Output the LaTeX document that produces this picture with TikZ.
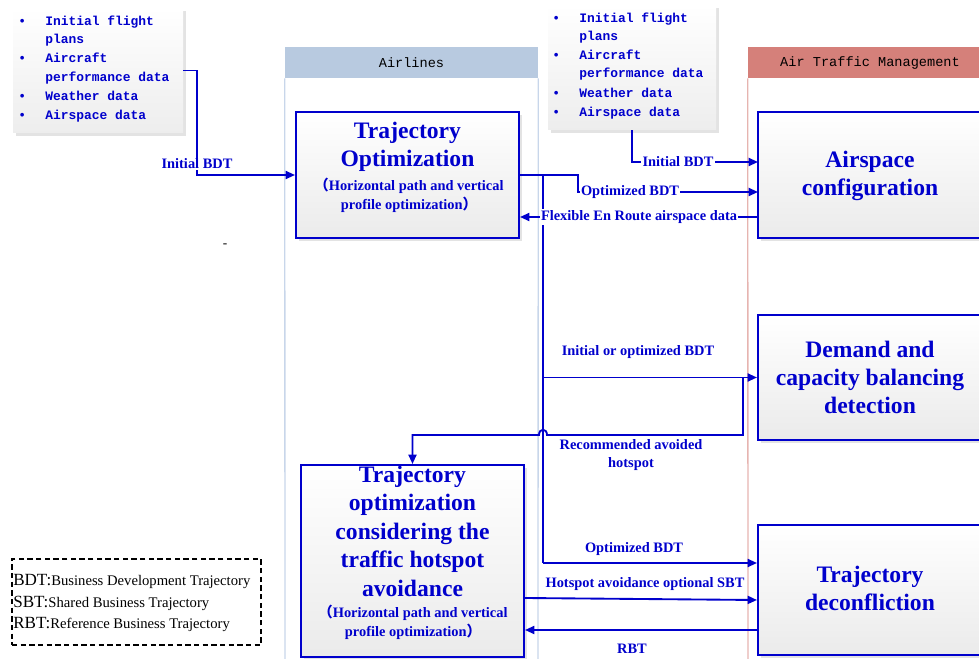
\documentclass[tikz,border=0pt]{standalone}
\usepackage{fontspec}
\setmainfont{Liberation Serif}
\newfontfamily\monof{Liberation Mono}
\newfontfamily\cjkf{Noto Sans CJK SC}
\usetikzlibrary{arrows.meta,calc,shadows}
\definecolor{fblue}{RGB}{0,0,204}
\definecolor{hdrblue}{RGB}{184,202,224}
\definecolor{hdrred}{RGB}{213,128,122}
\definecolor{laneblue}{RGB}{200,214,234}
\definecolor{lanered}{RGB}{230,180,176}
\begin{document}
\begin{tikzpicture}[x=0.75pt,y=-0.75pt,
  box/.style={draw=fblue, line width=1.5pt, top color=white, bottom color=gray!16,
    drop shadow={opacity=0.22,shadow xshift=2pt,shadow yshift=-2pt}, inner sep=0pt},
  databox/.style={top color=white, bottom color=gray!14, inner sep=0pt,
    drop shadow={opacity=0.22,shadow xshift=2pt,shadow yshift=-2pt}},
  bigtxt/.style={text=fblue, font=\fontsize{17.7}{21}\selectfont\bfseries, align=center, inner sep=0pt},
  smalltxt/.style={text=fblue, font=\fontsize{10.8}{14.2}\selectfont\bfseries, align=center, inner sep=0pt},
  lbl/.style={text=fblue, font=\fontsize{10.8}{13.5}\selectfont\bfseries, inner sep=1pt, align=center},
  conn/.style={draw=fblue, line width=1.4pt},
  arr/.style={conn, -{Triangle[length=7pt,width=6pt]}},
  datatext/.style={text=fblue, font=\monof\fontsize{9.7}{12}\selectfont\bfseries, inner sep=0pt,
    text height=7pt, text depth=2pt, anchor=west},
  hdr/.style={font=\monof\fontsize{10.2}{12}\selectfont, inner sep=0pt, minimum height=23.25pt},
  legtxt/.style={anchor=west, inner sep=0pt, text height=9pt, text depth=3pt}
]
\useasboundingbox (0,0) rectangle (979,659);

% lanes
\node[hdr, fill=hdrblue, minimum width=189.75pt] (airhdr) at (411.5,62.5) {Airlines};
\node[hdr, fill=hdrred, minimum width=183pt] (atmhdr) at (870,62.5) {Air Traffic Management};
\draw[laneblue, line width=1pt] (airhdr.south west) -- (285,659);
\draw[laneblue, line width=1pt] (airhdr.south east) -- (538,659);
\draw[lanered, line width=1pt] (atmhdr.south west) -- (748,659);

% data boxes
\node[databox, minimum width=127.5pt, minimum height=93.75pt] (data1) at (98,70.5) {};
\foreach \t/\y/\b in {Initial flight/22/1, plans/40/0, Aircraft/59/1, performance data/78/0, Weather data/97/1, Airspace data/116/1}{
  \node[datatext] (d1l\y) at (45,\y) {\t};
  \ifnum\b=1 \node[datatext] (d1b\y) at (18,\y) {\textbullet}; \fi
}
\node[databox, minimum width=126pt, minimum height=93.75pt] (data2) at (632,67.5) {};
\foreach \t/\y/\b in {Initial flight/19/1, plans/37/0, Aircraft/56/1, performance data/74/0, Weather data/94/1, Airspace data/113/1}{
  \node[datatext] (d2l\y) at (579,\y) {\t};
  \ifnum\b=1 \node[datatext] (d2b\y) at (552,\y) {\textbullet}; \fi
}

% process boxes
\node[box, minimum width=167.25pt, minimum height=94.5pt] (trajopt) at (407.5,175) {};
\node[bigtxt] (trajoptA) at (407.5,147) {Trajectory\\Optimization};
\node[smalltxt] (trajoptB) at (409,195) {{\cjkf （}Horizontal path and vertical\\profile optimization{\cjkf ）}};

\node[box, minimum width=168pt, minimum height=94.5pt] (airspace) at (870,175) {};
\node[bigtxt] (airspaceA) at (870,176) {Airspace\\configuration};

\node[box, minimum width=168pt, minimum height=93.75pt] (demand) at (870,377.5) {};
\node[bigtxt] (demandA) at (870,377) {Demand and\\capacity balancing\\detection};

\node[box, minimum width=168pt, minimum height=97.5pt] (deconf) at (870,590) {};
\node[bigtxt] (deconfA) at (870,588) {Trajectory\\deconfliction};

\node[box, minimum width=167.25pt, minimum height=144pt] (hotspot) at (412.5,561) {};
\node[bigtxt, font=\fontsize{17.7}{21.4}\selectfont\bfseries] (hotspotA) at (412.5,531) {Trajectory\\optimization\\considering the\\traffic hotspot\\avoidance};
\node[smalltxt] (hotspotB) at (413,622) {{\cjkf （}Horizontal path and vertical\\profile optimization{\cjkf ）}};

% connectors
\coordinate (c1) at (197,175);
\draw[arr] (data1.east) -| (c1) -- (trajopt.west);
\coordinate (c2) at (758,162);
\draw[arr] (data2.south) |- (c2);
\coordinate (c3) at (578,175);
\coordinate (c4) at (758,192);
\draw[arr] (trajopt.east) -- (c3) |- (c4);
\draw[arr] ($(airspace.west)+(0,42)$) -- ($(trajopt.east)+(0,42)$);

\coordinate (j1) at (543,175);
\coordinate (j2) at (543,377.5);
\coordinate (j3) at (543,563);
\draw[conn] (j1) -- (j3);
\draw[arr] (j2) -- (demand.west);
\draw[arr] (j3) -- ($(deconf.west)+(0,-27)$);

\coordinate (r1) at (743,377.5);
\draw[arr] (r1) -- (743,435) -- (547,435) .. controls (547,428) and (539,428) .. (539,435) -| (hotspot.north);

\draw[arr] ($(hotspot.east)+(0,37)$) -- ($(deconf.west)+(0,10)$);
\draw[arr] ($(deconf.west)+(0,40)$) -- ($(hotspot.east)+(0,69)$);

% labels
\node[lbl, fill=white] (l1) at (197,164) {Initial BDT};
\node[lbl, fill=white] (l2) at (678,162) {Initial BDT};
\node[lbl, fill=white] (l3) at (630,192) {Optimized BDT};
\node[lbl, fill=white] (l4) at (639,217) {Flexible En Route airspace data};
\node[lbl] (l5) at (638,352) {Initial or optimized BDT};
\node[lbl] (l6) at (631,455) {Recommended avoided\\hotspot};
\node[lbl] (l7) at (634,549) {Optimized BDT};
\node[lbl] (l8) at (645,584) {Hotspot avoidance optional SBT};
\node[lbl] (l9) at (632,649) {RBT};

\node[inner sep=0pt, font=\fontsize{10}{10}\selectfont] (tick) at (225,246) {-};

% legend
\node[draw, dashed, line width=1.1pt, dash pattern=on 4pt off 2.5pt, minimum width=186.75pt, minimum height=64.5pt, inner sep=0pt] (legend) at (136.5,602) {};
\node[legtxt] (lg1) at (13,581) {{\fontsize{12.8}{14}\selectfont BDT:}{\fontsize{11}{13}\selectfont Business Development Trajectory}};
\node[legtxt] (lg2) at (13,603) {{\fontsize{12.8}{14}\selectfont SBT:}{\fontsize{11}{13}\selectfont Shared Business Trajectory}};
\node[legtxt] (lg3) at (13,624) {{\fontsize{12.8}{14}\selectfont RBT:}{\fontsize{11}{13}\selectfont Reference Business Trajectory}};
\end{tikzpicture}
\end{document}
